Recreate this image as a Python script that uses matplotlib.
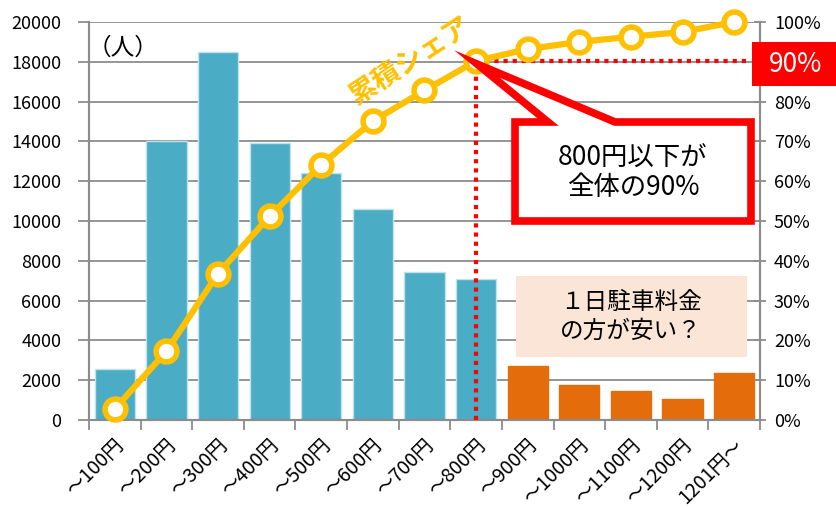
import numpy as np
import matplotlib
matplotlib.use("Agg")
import matplotlib.pyplot as plt
from matplotlib.patches import Polygon, Rectangle
import matplotlib.transforms as mtransforms

plt.rcParams['font.family'] = ['Noto Sans CJK JP', 'DejaVu Sans']

# data
labels = ['～100円', '～200円', '～300円', '～400円', '～500円', '～600円', '～700円',
          '～800円', '～900円', '～1000円', '～1100円', '～1200円', '1201円～']
people = [2550, 14000, 18500, 13900, 12400, 10600, 7440, 7100, 2700, 1760, 1450, 1055, 2360]
share = [2.8, 17.3, 36.8, 51.2, 64.1, 75.1, 82.8, 90.2, 93.2, 95.0, 96.3, 97.5, 100.0]

teal = '#4BACC6'
orange = '#E46C0A'
gold = '#FFC000'
gray = '#8C8C8C'

W, H = 837, 508
fig = plt.figure(figsize=(W / 100, H / 100), dpi=100)
ax = fig.add_axes([89 / W, 1 - 420 / H, (760 - 89) / W, (420 - 22) / H])
ax2 = ax.twinx()

x = np.arange(len(labels))
colors = [teal] * 8 + [orange] * 5
ax.bar(x, people, width=0.78, color=colors, edgecolor=['#BFE3EC'] * 8 + [orange] * 5,
       linewidth=1, zorder=2)

ax.set_xlim(-0.5, len(labels) - 0.5)
ax.set_ylim(0, 20000)
ax.set_yticks(range(0, 20001, 2000))
ax.yaxis.grid(True, color=gray, lw=1.3, zorder=0)
ax.set_axisbelow(True)
ax.set_xticks(np.arange(-0.5, len(labels), 1))
ax.set_xticklabels([])
ax.set_xticks(x, minor=True)
ax.set_xticklabels(labels, minor=True, rotation=45, ha='right', va='center',
                   rotation_mode='anchor', fontsize=14)
ax.tick_params(axis='x', which='major', length=7, width=1.3, color=gray, direction='out')
ax.tick_params(axis='x', which='minor', length=0, pad=16)
offset = mtransforms.ScaledTranslation(0.06, 0, fig.dpi_scale_trans)
for lab in ax.get_xticklabels(minor=True):
    lab.set_transform(lab.get_transform() + offset)
ax.tick_params(axis='y', length=8, width=1.3, color=gray, labelsize=13, pad=12)

for side in ['top']:
    ax.spines[side].set_visible(False)
    ax2.spines[side].set_visible(False)
for sp in ['left', 'right', 'bottom']:
    ax.spines[sp].set_color(gray)
    ax.spines[sp].set_linewidth(1.5)
    ax2.spines[sp].set_color(gray)
    ax2.spines[sp].set_linewidth(1.5)

ax2.set_ylim(0, 100)
ax2.set_yticks(range(0, 101, 10))
# the 90% tick label is covered by the red badge
ax2.set_yticklabels(['' if v == 90 else f'{v}%' for v in range(0, 101, 10)])
ax2.tick_params(axis='y', length=8, width=1.3, color=gray, direction='inout',
                labelsize=13, pad=6)

ax2.plot(x, share, color=gold, lw=4.5, marker='o', markersize=15,
         markerfacecolor='white', markeredgecolor=gold, markeredgewidth=4, zorder=5,
         clip_on=False)

# red dotted guide lines at 800 yen / 90%
ax2.plot([7, 7], [0, share[7]], color='#FF0000', lw=3, ls=(0, (1, 1.2)), zorder=4)
ax2.plot([7, 12.25], [share[7], share[7]], color='#FF0000', lw=3, ls=(0, (1, 1.2)), zorder=4)

# annotations
fig.text(88 / W, 1 - 48 / H, '（人）', fontsize=17, va='center', ha='left')
fig.text(410 / W, 1 - 61 / H, '累積シェア', color=gold, fontsize=20, fontweight='bold',
         rotation=33, ha='center', va='center')

badge = Rectangle((752 / W, 1 - 86 / H), 100 / W, 44 / H, transform=fig.transFigure,
                  fc='#FF0000', ec='none', zorder=10)
fig.add_artist(badge)
fig.text(796 / W, 1 - 65 / H, '90%', color='white', fontsize=19, ha='center', va='center',
         zorder=11)

pts = [(515, 122), (548, 122), (477, 64), (615, 122), (751, 122), (751, 221), (515, 221)]
poly = Polygon([(px / W, 1 - py / H) for px, py in pts], closed=True, transform=fig.transFigure,
               fc='white', ec='#FF0000', lw=5.5, joinstyle='miter', zorder=10)
fig.add_artist(poly)
fig.text(633 / W, 1 - 173 / H, '800円以下が\n全体の90%', fontsize=19, ha='center', va='center',
         linespacing=1.1, zorder=11)

rect = Rectangle((516 / W, 1 - 357 / H), (747 - 516) / W, (357 - 276) / H,
                 transform=fig.transFigure, fc='#FBE5D6', ec='none', zorder=10)
fig.add_artist(rect)
fig.text(631 / W, 1 - 317 / H, '１日駐車料金\nの方が安い？', fontsize=17, ha='center', va='center',
         linespacing=1.3, zorder=11)

fig.savefig('out.png', dpi=100)
